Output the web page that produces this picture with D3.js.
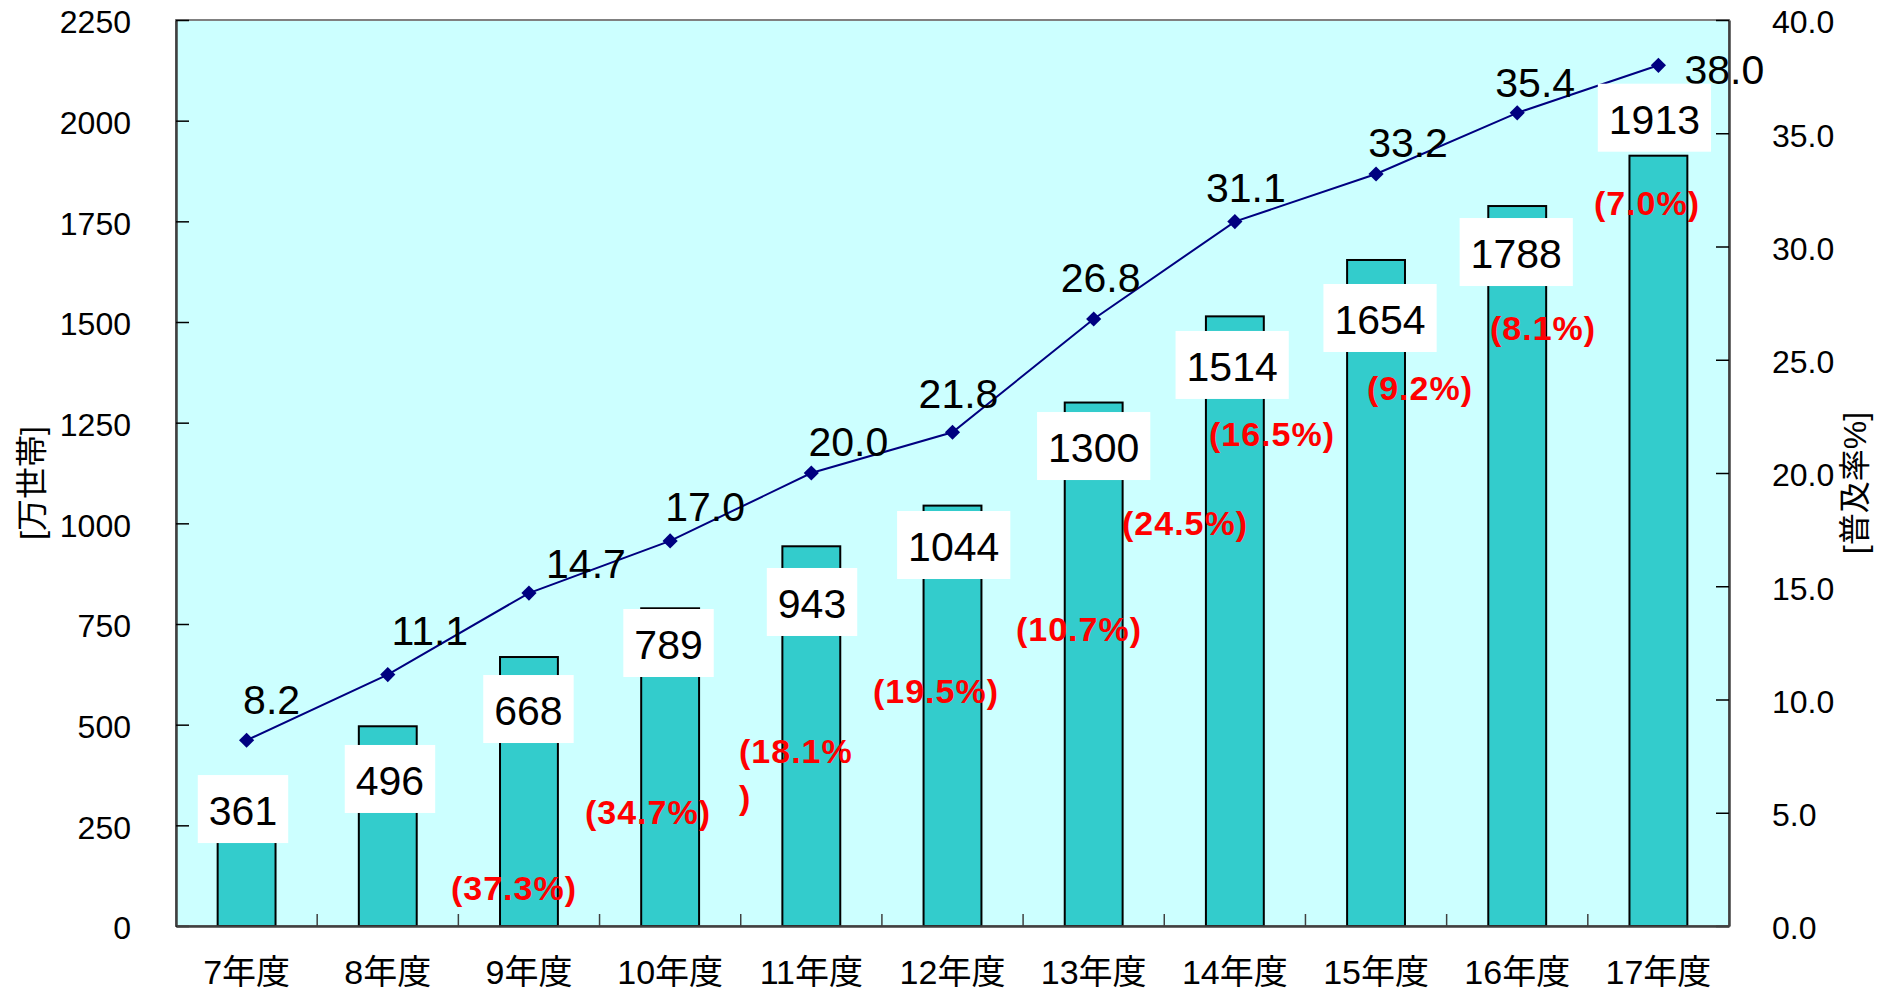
<!DOCTYPE html>
<html>
<head>
<meta charset="utf-8">
<script src="https://cdn.jsdelivr.net/npm/d3@7/dist/d3.min.js"></script>
<style>
  html, body { margin: 0; padding: 0; background: #ffffff; }
  svg { display: block; }
  text { font-family: "Liberation Sans", Arial, "Noto Sans CJK JP", sans-serif; }
</style>
</head>
<body>
<svg id="chart" width="1886" height="993"></svg>
<script>
// ---- data ----
const categories = ["7年度", "8年度", "9年度", "10年度", "11年度", "12年度", "13年度", "14年度", "15年度", "16年度", "17年度"];
const households = [361, 496, 668, 789, 943, 1044, 1300, 1514, 1654, 1788, 1913];
const penetration = [8.2, 11.1, 14.7, 17.0, 20.0, 21.8, 26.8, 31.1, 33.2, 35.9, 38.0];
const penetrationLabels = ["8.2", "11.1", "14.7", "17.0", "20.0", "21.8", "26.8", "31.1", "33.2", "35.4", "38.0"];
const growthLabels = ["(37.3%)", "(34.7%)", "(18.1%)", "(19.5%)", "(10.7%)", "(24.5%)", "(16.5%)", "(9.2%)", "(8.1%)", "(7.0%)"];
const leftTicks = [0, 250, 500, 750, 1000, 1250, 1500, 1750, 2000, 2250];
const rightTicks = [0, 5, 10, 15, 20, 25, 30, 35, 40];
const leftTitle = "[万世帯]";
const rightTitle = "[普及率%]";

// ---- layout (label placement, as in the original hand-placed labels) ----
const barLabelDx = [-3.6, 2.2, -0.5, -1.6, 0.7, 1.2, 0, -2.7, 4, -1, -4];
const barLabelDy = [28.4, 52.7, 52, 34.7, 55.7, 39.4, 43.5, 48.6, 58, 46, -38];
const lineLabelDx = [25, 42, 57, 35, 37, 6, 7, 11, 32, 18, 66];
const lineLabelDy = [-41, -44, -30, -35, -32, -39, -42, -34, -32, -31, 4];
// growth label anchors: [category index position, left-axis value]
const growthAt = [[1.894, 94], [2.843, 283], [3.488, 435], [4.883, 584], [5.896, 738],
                  [6.647, 1001], [7.263, 1222], [8.311, 1336], [9.183, 1485], [9.919, 1795]];
const growthWrapIndex = 2;

const W = 1886, H = 993;
const m = { left: 176, right: 1729, top: 20, bottom: 926 };

const svg = d3.select("#chart");

const x = d3.scaleBand().domain(categories).range([m.left, m.right])
  .paddingInner(0.59).paddingOuter(0.295);
const xIdx = d3.scaleLinear().domain([-0.5, categories.length - 0.5]).range([m.left, m.right]);
const yL = d3.scaleLinear().domain([0, 2250]).range([m.bottom, m.top]);
const yR = d3.scaleLinear().domain([0, 40]).range([m.bottom, m.top]);
const cx = c => x(c) + x.bandwidth() / 2;

// plot background
svg.append("rect")
  .attr("x", m.left).attr("y", m.top)
  .attr("width", m.right - m.left).attr("height", m.bottom - m.top)
  .attr("fill", "#CCFFFF").attr("stroke", "#808080").attr("stroke-width", 2);

// bars
svg.append("g").selectAll("rect").data(households).join("rect")
  .attr("x", (d, i) => x(categories[i]))
  .attr("y", d => yL(d))
  .attr("width", x.bandwidth())
  .attr("height", d => yL(0) - yL(d))
  .attr("fill", "#33CCCC")
  .attr("stroke", "#000000").attr("stroke-width", 2);

// left axis
const axL = d3.axisLeft(yL).tickValues(leftTicks).tickSizeInner(-13).tickSizeOuter(0)
  .tickPadding(45).tickFormat(d3.format("d"));
const gL = svg.append("g").attr("transform", `translate(${m.left},0)`).call(axL);
gL.select(".domain").attr("stroke", "#404040").attr("stroke-width", 2.5);
gL.selectAll(".tick line").attr("stroke", "#000").attr("stroke-width", 1.5);
gL.selectAll(".tick text").attr("font-size", 32).attr("fill", "#000")
  .attr("font-family", "'Liberation Sans', Arial, sans-serif").attr("dy", "0.4em");

// right axis
const axR = d3.axisRight(yR).tickValues(rightTicks).tickSizeInner(-13).tickSizeOuter(0)
  .tickPadding(43).tickFormat(d3.format(".1f"));
const gR = svg.append("g").attr("transform", `translate(${m.right},0)`).call(axR);
gR.select(".domain").attr("stroke", "#404040").attr("stroke-width", 2.5);
gR.selectAll(".tick line").attr("stroke", "#000").attr("stroke-width", 1.5);
gR.selectAll(".tick text").attr("font-size", 32).attr("fill", "#000")
  .attr("font-family", "'Liberation Sans', Arial, sans-serif").attr("dy", "0.4em");

// bottom axis
const axB = d3.axisBottom(x).tickSize(0).tickPadding(0);
const gB = svg.append("g").attr("transform", `translate(0,${m.bottom})`).call(axB);
gB.select(".domain").attr("stroke", "#404040").attr("stroke-width", 2.5);
gB.selectAll(".tick text").attr("font-size", 34).attr("fill", "#000")
  .attr("y", 46).attr("dy", "0.35em")
  .attr("font-family", "'Liberation Sans', Arial, 'Noto Sans CJK JP', sans-serif");
// category separator ticks (between bands)
const seps = d3.range(1, categories.length);
gB.append("g").selectAll("line").data(seps).join("line")
  .attr("x1", d => xIdx(d - 0.5)).attr("x2", d => xIdx(d - 0.5))
  .attr("y1", 0).attr("y2", -12)
  .attr("stroke", "#404040").attr("stroke-width", 1.5);

// line
const line = d3.line().x((d, i) => cx(categories[i])).y(d => yR(d));
svg.append("path").datum(penetration)
  .attr("d", line).attr("fill", "none")
  .attr("stroke", "#000080").attr("stroke-width", 2);
svg.append("g").selectAll("path").data(penetration).join("path")
  .attr("d", d3.symbol(d3.symbolSquare, 115))
  .attr("transform", (d, i) => `translate(${cx(categories[i])},${yR(d)}) rotate(45)`)
  .attr("fill", "#000080");

// line labels
svg.append("g").selectAll("text").data(penetration).join("text")
  .attr("x", (d, i) => cx(categories[i]) + lineLabelDx[i])
  .attr("y", (d, i) => yR(d) + lineLabelDy[i])
  .attr("dy", "0.36em")
  .attr("text-anchor", "middle")
  .attr("font-size", 41).attr("fill", "#000")
  .text((d, i) => penetrationLabels[i]);

// bar value labels with white boxes
const bl = svg.append("g").selectAll("g").data(households).join("g")
  .attr("transform", (d, i) => `translate(${cx(categories[i]) + barLabelDx[i]},${yL(d) + barLabelDy[i]})`);
const blRect = bl.append("rect").attr("fill", "#ffffff");
const blText = bl.append("text")
  .attr("text-anchor", "middle").attr("dy", "0.4em")
  .attr("font-size", 41).attr("fill", "#000")
  .text(d => String(d));
blText.each(function(d) {
  const w = this.getComputedTextLength();
  d3.select(this.parentNode).select("rect")
    .attr("x", -w / 2 - 11).attr("y", -34)
    .attr("width", w + 22).attr("height", 68);
});

// growth labels (red)
const gl = svg.append("g").selectAll("text").data(growthLabels).join("text")
  .attr("font-size", 34).attr("font-weight", "bold").attr("fill", "#FF0000")
  .attr("letter-spacing", 1)
  .attr("x", (d, i) => xIdx(growthAt[i][0]))
  .attr("y", (d, i) => yL(growthAt[i][1]))
  .attr("dy", "0.36em")
  .attr("text-anchor", (d, i) => i === growthWrapIndex ? "start" : "middle");
gl.each(function(d, i) {
  const t = d3.select(this);
  if (i === growthWrapIndex) {
    t.append("tspan").text(d.slice(0, -1));
    t.append("tspan").attr("x", xIdx(growthAt[i][0])).attr("dy", 46).text(d.slice(-1));
  } else {
    t.text(d);
  }
});

// axis titles
svg.append("text")
  .attr("transform", `translate(32,${(m.top + m.bottom) / 2 + 10}) rotate(-90)`)
  .attr("text-anchor", "middle").attr("dy", "0.35em")
  .attr("font-size", 32).attr("fill", "#000")
  .attr("font-family", "'Noto Sans CJK JP', sans-serif")
  .text(leftTitle);
svg.append("text")
  .attr("transform", `translate(1855,${(m.top + m.bottom) / 2 + 10}) rotate(-90)`)
  .attr("text-anchor", "middle").attr("dy", "0.35em")
  .attr("font-size", 32).attr("fill", "#000")
  .attr("font-family", "'Noto Sans CJK JP', sans-serif")
  .text(rightTitle);
</script>
</body>
</html>
